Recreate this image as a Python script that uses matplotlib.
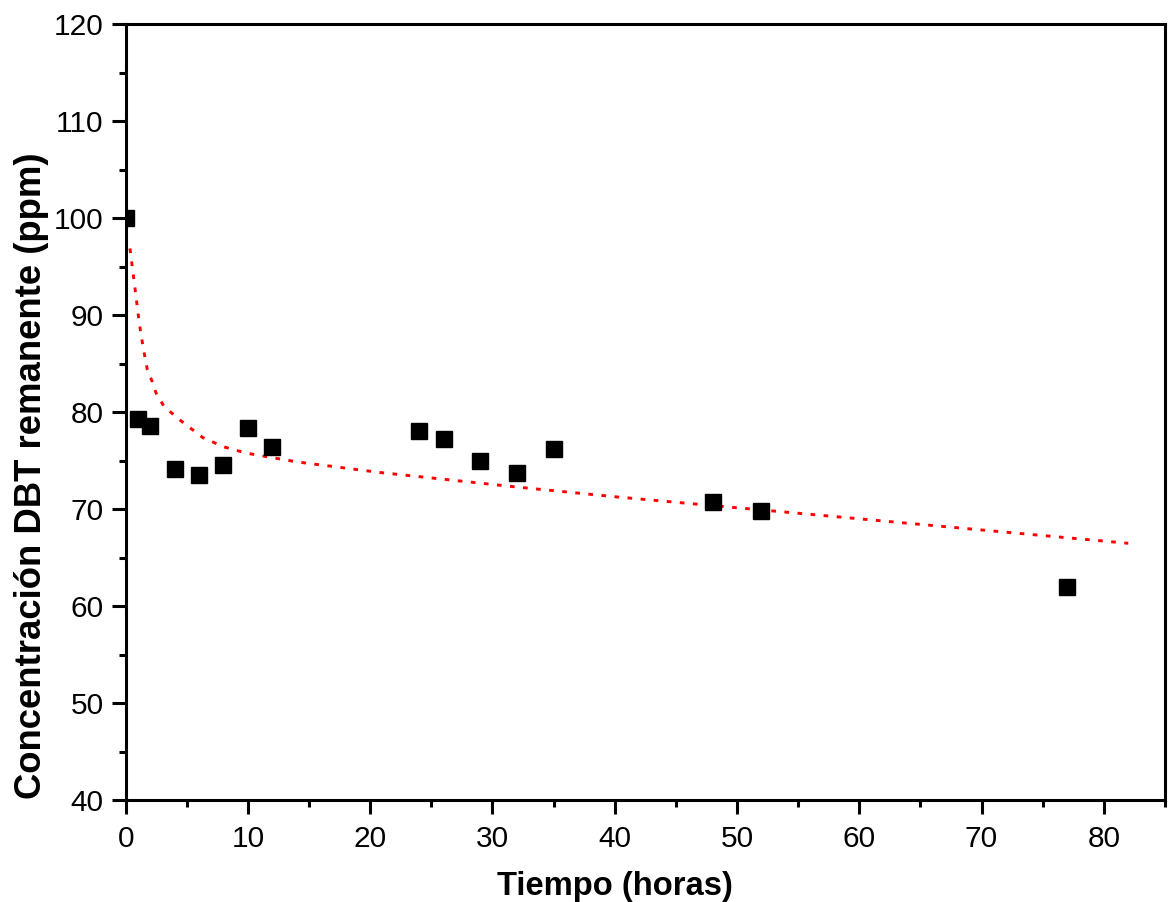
import numpy as np
import matplotlib
matplotlib.use('Agg')
import matplotlib.pyplot as plt
from matplotlib.ticker import MultipleLocator

# measured DBT concentration
tiempo = [0, 1, 2, 4, 6, 8, 10, 12, 24, 26, 29, 32, 35, 48, 52, 77]
conc = [100.0, 79.3, 78.6, 74.2, 73.5, 74.6, 78.4, 76.4,
        78.1, 77.3, 75.0, 73.7, 76.2, 70.8, 69.8, 62.0]

# fitted curve
fit_t = [0.35, 0.62, 0.87, 1.11, 1.44, 1.77, 2.16, 2.48, 3.14, 4.45,
         6.3, 8.0, 9.86, 13.96, 20.8, 32.0, 40.0, 47.9, 55.0, 68.9, 82.0]
fit_c = [96.9, 94.2, 91.7, 89.2, 86.6, 84.4, 83.2, 82.0, 80.6, 79.2,
         77.4, 76.45, 75.8, 74.9, 73.8, 72.3, 71.3, 70.4, 69.6, 68.0, 66.5]

plt.rcParams['font.family'] = ['Liberation Sans', 'DejaVu Sans']

fig = plt.figure(figsize=(11.68, 9.02), dpi=100)
ax = fig.add_axes([0.1076, 0.1127, 0.8898, 0.8603])

ax.plot(fit_t, fit_c, color='red', lw=2.1, linestyle=(0, (1.6, 2.9)), zorder=2)
ax.plot(tiempo, conc, 's', color='black', markersize=11.5, clip_on=True, zorder=3)

ax.set_xlim(0, 85)
ax.set_ylim(40, 120)
ax.xaxis.set_major_locator(MultipleLocator(10))
ax.xaxis.set_minor_locator(MultipleLocator(5))
ax.yaxis.set_major_locator(MultipleLocator(10))
ax.yaxis.set_minor_locator(MultipleLocator(5))

for s in ax.spines.values():
    s.set_linewidth(2.2)
ax.tick_params(which='major', direction='out', length=10, width=2.2, labelsize=21.5)
ax.tick_params(axis='x', which='major', pad=7.5)
ax.tick_params(axis='y', which='major', pad=6)
ax.tick_params(which='minor', direction='out', length=5, width=2.2)
ax.tick_params(top=False, right=False, which='both')

ax.set_xlabel('Tiempo (horas)', fontsize=23.6, fontweight='bold')
ax.set_ylabel('Concentración DBT remanente (ppm)', fontsize=26.3, fontweight='bold')
ax.xaxis.set_label_coords(0.471, -0.091)
ax.yaxis.set_label_coords(-0.0737, 0.419)

fig.savefig('out.png', dpi=100)
